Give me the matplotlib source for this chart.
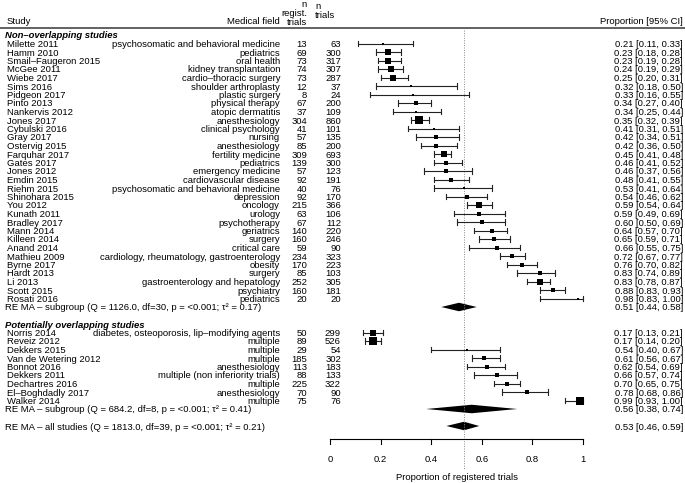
import matplotlib.pyplot as plt
import numpy as np

plt.rcParams['font.family'] = ['Liberation Sans', 'DejaVu Sans']
FS = 6.8

# non-overlapping studies
studies1 = ["Milette 2011", "Hamm 2010", "Smail\u2013Faugeron 2015", "McGee 2011", "Wiebe 2017",
            "Sims 2016", "Pidgeon 2017", "Pinto 2013", "Nankervis 2012", "Jones 2017",
            "Cybulski 2016", "Gray 2017", "Ostervig 2015", "Farquhar 2017", "Gates 2017",
            "Jones 2012", "Emdin 2015", "Riehm 2015", "Shinohara 2015", "You 2012",
            "Kunath 2011", "Bradley 2017", "Mann 2014", "Killeen 2014", "Anand 2014",
            "Mathieu 2009", "Byrne 2017", "Hardt 2013", "Li 2013", "Scott 2015", "Rosati 2016"]
fields1 = ["psychosomatic and behavioral medicine", "pediatrics", "oral health",
           "kidney transplantation", "cardio\u2013thoracic surgery", "shoulder arthroplasty",
           "plastic surgery", "physical therapy", "atopic dermatitis", "anesthesiology",
           "clinical psychology", "nursing", "anesthesiology", "fertility medicine", "pediatrics",
           "emergency medicine", "cardiovascular disease", "psychosomatic and behavioral medicine",
           "depression", "oncology", "urology", "psychotherapy", "geriatrics", "surgery",
           "critical care", "cardiology, rheumatology, gastroenterology", "obesity", "surgery",
           "gastroenterology and hepatology", "psychiatry", "pediatrics"]
nreg1 = [13, 69, 73, 74, 73, 12, 8, 67, 37, 304, 41, 57, 85, 309, 139, 57, 92, 40, 92, 215,
         63, 67, 140, 160, 59, 234, 170, 85, 252, 160, 20]
ntri1 = [63, 300, 317, 307, 287, 37, 24, 200, 109, 860, 101, 135, 200, 693, 300, 123, 191, 76,
         170, 366, 106, 112, 220, 246, 90, 323, 223, 103, 305, 181, 20]
est1 = [0.21, 0.23, 0.23, 0.24, 0.25, 0.32, 0.33, 0.34, 0.34, 0.35, 0.41, 0.42, 0.42, 0.45, 0.46,
        0.46, 0.48, 0.53, 0.54, 0.59, 0.59, 0.60, 0.64, 0.65, 0.66, 0.72, 0.76, 0.83, 0.83, 0.88, 0.98]
lo1 = [0.11, 0.18, 0.19, 0.19, 0.20, 0.18, 0.16, 0.27, 0.25, 0.32, 0.31, 0.34, 0.36, 0.41, 0.41,
       0.37, 0.41, 0.41, 0.46, 0.54, 0.49, 0.50, 0.57, 0.59, 0.55, 0.67, 0.70, 0.74, 0.78, 0.83, 0.83]
hi1 = [0.33, 0.28, 0.28, 0.29, 0.31, 0.50, 0.55, 0.40, 0.44, 0.39, 0.51, 0.51, 0.50, 0.48, 0.52,
       0.56, 0.55, 0.64, 0.62, 0.64, 0.69, 0.69, 0.70, 0.71, 0.75, 0.77, 0.82, 0.89, 0.87, 0.93, 1.00]
# square side in px (study weight)
wt1 = [2.5, 4.5, 4.5, 4.5, 4.5, 2, 2, 3, 2.5, 6, 2.5, 3, 3, 5, 4, 3, 3, 2, 3, 4.5,
       3, 3, 4, 4, 3, 4, 4, 3, 5, 4, 2.5]

# potentially overlapping studies
studies2 = ["Norris 2014", "Reveiz 2012", "Dekkers 2015", "Van de Wetering 2012", "Bonnot 2016",
            "Dekkers 2011", "Dechartres 2016", "El\u2013Boghdadly 2017", "Walker 2014"]
fields2 = ["diabetes, osteoporosis, lip\u2013modifying agents", "multiple", "multiple", "multiple",
           "anesthesiology", "multiple (non inferiority trials)", "multiple", "anesthesiology",
           "multiple"]
nreg2 = [50, 89, 29, 185, 113, 88, 225, 70, 75]
ntri2 = [299, 526, 54, 302, 183, 133, 322, 90, 76]
est2 = [0.17, 0.17, 0.54, 0.61, 0.62, 0.66, 0.70, 0.78, 0.99]
lo2 = [0.13, 0.14, 0.40, 0.56, 0.54, 0.57, 0.65, 0.68, 0.93]
hi2 = [0.21, 0.20, 0.67, 0.67, 0.69, 0.74, 0.75, 0.86, 1.00]
wt2 = [5, 6, 2, 3.5, 3.5, 3, 4, 3, 6]

# pooled estimates
sub1 = (0.51, 0.44, 0.58)
sub2 = (0.56, 0.38, 0.74)
overall = (0.53, 0.46, 0.59)
sub1_lab = "RE MA \u2013 subgroup (Q = 1126.0, df=30, p = <0.001; \u03c4\u00b2 = 0.17)"
sub2_lab = "RE MA \u2013 subgroup (Q = 684.2, df=8, p = <0.001; \u03c4\u00b2 = 0.41)"
all_lab = "RE MA \u2013 all studies (Q = 1813.0, df=39, p = <0.001; \u03c4\u00b2 = 0.21)"

W, H = 685, 483
X0, X1 = 330, 583
ROW0, ROWH = 43.5, 8.5


def px(x):
    return (x - X0) / (X1 - X0)


def py(y):
    return (y - ROW0) / ROWH


fig = plt.figure(figsize=(W / 100, H / 100), dpi=100)
ax = fig.add_axes([0, 0, 1, 1])
ax.set_xlim(px(0), px(W))
ax.set_ylim(py(H), py(0))
ax.axis('off')


def ci_text(e, l, h):
    return "{:.2f} [{:.2f}, {:.2f}]".format(e, l, h)


def draw_rows(rows, names, fields, nreg, ntri, est, lo, hi, wt):
    for r, nm, f, a, b, e, l, h, s in zip(rows, names, fields, nreg, ntri, est, lo, hi, wt):
        ax.text(px(7), r, nm, ha='left', va='center_baseline', fontsize=FS)
        ax.text(px(280), r, f, ha='right', va='center_baseline', fontsize=FS)
        ax.text(px(307), r, str(a), ha='right', va='center_baseline', fontsize=FS)
        ax.text(px(341), r, str(b), ha='right', va='center_baseline', fontsize=FS)
        ax.text(px(683), r, ci_text(e, l, h), ha='right', va='center_baseline', fontsize=FS)
        ax.plot([l, h], [r, r], color='#222222', lw=0.8)
        ax.plot([l, l], [r - 0.3, r + 0.3], color='#222222', lw=0.8)
        ax.plot([h, h], [r - 0.3, r + 0.3], color='#222222', lw=0.8)
        ax.plot(e, r, 's', ms=s * 0.85, color='k', mew=0)


def draw_poly(r, vals, label):
    e, l, h = vals
    ax.fill([l, e, h, e], [r, r - 0.5, r, r + 0.5], color='k', lw=0)
    ax.text(px(5), r, label, ha='left', va='center_baseline', fontsize=FS)
    ax.text(px(683), r, ci_text(e, l, h), ha='right', va='center_baseline', fontsize=FS)


rows1 = np.arange(len(studies1))
rows2 = np.arange(len(studies2)) + 34

# header
ax.text(px(7), py(21), "Study", ha='left', va='center_baseline', fontsize=FS)
ax.text(px(280), py(21), "Medical field", ha='right', va='center_baseline', fontsize=FS)
ax.text(px(307), py(13.5), "n\nregist.\ntrials", ha='right', va='center', fontsize=FS,
        multialignment='right', linespacing=1.0)
ax.text(px(315), py(11), "n\ntrials", ha='left', va='center', fontsize=FS, linespacing=1.0)
ax.text(px(683), py(21), "Proportion [95% CI]", ha='right', va='center_baseline', fontsize=FS)
ax.plot([px(0), px(W)], [py(28), py(28)], color='#555555', lw=1.3)

# reference line at overall estimate
ax.plot([overall[0], overall[0]], [py(30), py(470)], color='#888888', lw=0.7, ls=(0, (1, 1.5)))

ax.text(px(5), -1, "Non\u2013overlapping studies", ha='left', va='center_baseline', fontsize=FS,
        fontweight='bold', fontstyle='italic')
draw_rows(rows1, studies1, fields1, nreg1, ntri1, est1, lo1, hi1, wt1)
draw_poly(31, sub1, sub1_lab)

ax.text(px(5), 33, "Potentially overlapping studies", ha='left', va='center_baseline', fontsize=FS,
        fontweight='bold', fontstyle='italic')
draw_rows(rows2, studies2, fields2, nreg2, ntri2, est2, lo2, hi2, wt2)
draw_poly(43, sub2, sub2_lab)
draw_poly(45, overall, all_lab)

# x axis
ticks = np.arange(0, 1.01, 0.2)
ya = py(439)
ax.plot([0, 1], [ya, ya], color='k', lw=0.8)
for t in ticks:
    ax.plot([t, t], [ya, ya + 0.6], color='k', lw=0.8)
    ax.text(t, py(458), "{:g}".format(round(t, 1)), ha='center', va='center_baseline', fontsize=FS)
ax.text(0.5, py(476), "Proportion of registered trials", ha='center', va='center_baseline',
        fontsize=FS)

fig.savefig("out.png", dpi=100)
